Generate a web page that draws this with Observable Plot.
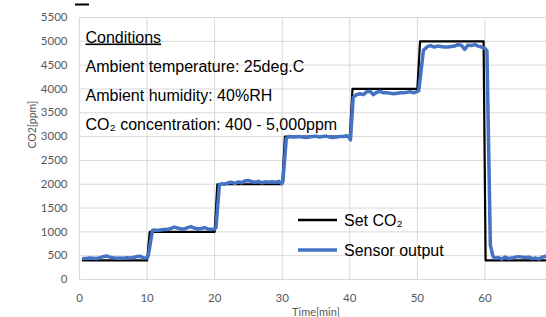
<!DOCTYPE html>
<html>
<head>
<meta charset="utf-8">
<script src="https://cdn.jsdelivr.net/npm/d3@7"></script>
<script src="https://cdn.jsdelivr.net/npm/@observablehq/plot@0.6"></script>
<style>
  html, body { margin: 0; padding: 0; background: #fff; overflow: hidden; }
  #chart { width: 546px; height: 317px; overflow: hidden; }
  #chart svg { max-width: none !important; }
</style>
</head>
<body>
<div id="chart"></div>
<script>
// Set CO2 step profile (time in min, ppm)
const setTime = [0.5, 10, 10.4, 20, 20.4, 30, 30.4, 40, 40.4, 50, 50.4, 59.8, 60.1, 71];
const setPpm  = [400, 400, 1000, 1000, 2000, 2000, 3000, 3000, 4000, 4000, 5000, 5000, 400, 400];

// Sensor output (time in min, ppm)
const sensorTime = [
  0.6, 1, 1.5, 2, 2.5, 3, 3.5, 4, 4.5, 5, 5.5, 6, 6.5, 7, 7.5, 8, 8.5, 9, 9.5, 10,
  10.2, 10.8, 11, 11.5, 12, 12.5, 13, 13.5, 14, 14.5, 15, 15.5, 16, 16.5, 17, 17.5, 18, 18.5, 19, 19.5, 20,
  20.2, 20.7, 21, 21.5, 22, 22.5, 23, 23.5, 24, 24.5, 25, 25.5, 26, 26.5, 27, 27.5, 28, 28.5, 29, 29.5, 29.9,
  30.1, 30.6, 31, 31.5, 32, 32.5, 33, 33.5, 34, 34.5, 35, 35.5, 36, 36.5, 37, 37.5, 38, 38.5, 39, 39.5, 39.8,
  40.1, 40.5, 41, 41.5, 42, 42.5, 43, 43.5, 44, 44.5, 45, 45.5, 46, 46.5, 47, 47.5, 48, 48.5, 49, 49.5, 50,
  50.2, 50.9, 51.5, 52, 52.5, 53, 53.5, 54, 54.5, 55, 55.5, 56, 56.5, 57, 57.5, 58, 58.5, 59, 59.5, 60,
  60.3, 60.8, 61.2, 61.5, 62, 62.5, 63, 63.5, 64, 64.5, 65, 65.5, 66, 66.5, 67, 67.5, 68, 68.5, 69, 69.5, 70
];
const sensorPpm = [
  440, 440, 450, 445, 440, 455, 480, 495, 470, 455, 445, 450, 445, 455, 450, 460, 485, 490, 450, 450,
  520, 1030, 1040, 1030, 1040, 1050, 1050, 1070, 1100, 1080, 1060, 1060, 1090, 1110, 1080, 1060, 1070, 1090, 1060, 1050, 1060,
  1090, 1990, 2010, 2000, 2030, 2040, 2020, 2050, 2030, 2070, 2080, 2050, 2040, 2060, 2030, 2050, 2040, 2050, 2040, 2060, 2010,
  2050, 2960, 3000, 2990, 2990, 3000, 2990, 2980, 2990, 3000, 3010, 2990, 3000, 3010, 2990, 2980, 2990, 3000, 3000, 3020, 3000,
  2930, 3820, 3880, 3900, 3880, 3940, 3950, 3880, 3930, 3950, 3920, 3920, 3910, 3900, 3910, 3920, 3920, 3930, 3940, 3920, 3950,
  3960, 4810, 4890, 4910, 4880, 4900, 4890, 4880, 4880, 4890, 4900, 4930, 4920, 4830, 4920, 4910, 4930, 4900, 4880, 4850,
  4800, 720, 480, 450, 460, 430, 470, 440, 450, 470, 480, 470, 460, 470, 440, 450, 430, 470, 490, 480, 470
];

const yTicks = d3.range(0, 5501, 500);
const xTicks = d3.range(0, 71, 10);

const setData = setTime.map((t, i) => ({t, v: setPpm[i]}));
const sensorData = sensorTime.map((t, i) => ({t, v: sensorPpm[i]}));

const conditionsTitle = "Conditions";
const conditions = [
  "Ambient temperature: 25deg.C",
  "Ambient humidity: 40%RH",
  "CO\u2082 concentration: 400 - 5,000ppm"
];
const legendLabels = ["Set CO\u2082", "Sensor output"];
const legendColors = ["#000000", "#4472C4"];

const grid = "#d9d9d9";
const tickColor = "#595959";
const textFont = "'Liberation Sans', Arial, sans-serif";

function legendMark(index, scales, values, dims) {
  const g = d3.create("svg:g");
  const x0 = dims.marginLeft + 219, y0 = dims.marginTop + 203;
  legendLabels.forEach((lab, i) => {
    const y = y0 + i * 30;
    g.append("line").attr("x1", x0).attr("x2", x0 + 39).attr("y1", y).attr("y2", y)
      .attr("stroke", legendColors[i]).attr("stroke-width", i === 0 ? 2.5 : 3.5);
    g.append("text").attr("x", x0 + 46).attr("y", y + 6)
      .attr("text-anchor", "start")
      .attr("font-family", textFont).attr("font-size", 16)
      .attr("fill", "#000").text(lab);
  });
  // stray underline mark at top-left
  g.append("rect").attr("x", 75).attr("y", 3.5).attr("width", 14).attr("height", 2).attr("fill", "#000");
  return g.node();
}

function condText(text, baseline, underline) {
  return Plot.text([text], {
    frameAnchor: "top-left", textAnchor: "start", lineAnchor: "bottom",
    dx: 6, dy: baseline - 17, fontSize: 16, fill: "#000", fontFamily: textFont,
    render: (index, scales, values, dims, ctx, next) => {
      const g = next(index, scales, values, dims, ctx);
      if (underline) d3.select(g).selectAll("text").style("text-decoration", "underline");
      return g;
    }
  });
}

const chart = Plot.plot({
  width: 553,
  height: 317,
  marginLeft: 79,
  marginRight: 1,
  marginTop: 17,
  marginBottom: 38,
  style: {fontFamily: "Lato, 'Open Sans', sans-serif", background: "#fff", maxWidth: "none"},
  x: {domain: [0, 70]},
  y: {domain: [0, 5500]},
  marks: [
    Plot.gridX(xTicks, {stroke: grid, strokeOpacity: 1}),
    Plot.gridY(yTicks, {stroke: grid, strokeOpacity: 1}),
    Plot.ruleX([0], {stroke: grid, strokeWidth: 1.2}),
    Plot.axisY(yTicks, {tickSize: 0, tickPadding: 12, fontSize: 11.5, fill: tickColor, label: null, tickFormat: d => String(d)}),
    Plot.axisX(xTicks, {tickSize: 0, tickPadding: 14, fontSize: 11.5, fill: tickColor, label: null, tickFormat: d => String(d)}),
    Plot.text(["CO2[ppm]"], {frameAnchor: "left", rotate: -90, dx: -47, fontSize: 10.5, fill: tickColor}),
    Plot.text(["Time[min]"], {frameAnchor: "bottom", lineAnchor: "bottom", dy: 36, fontSize: 11, fill: tickColor}),
    Plot.line(setData, {x: "t", y: "v", stroke: "#000", strokeWidth: 2.2, clip: true}),
    Plot.line(sensorData, {x: "t", y: "v", stroke: "#4472C4", strokeWidth: 3.5, strokeLinejoin: "round", clip: true}),
    condText(conditionsTitle, 42, true),
    condText(conditions[0], 71, false),
    condText(conditions[1], 100, false),
    condText(conditions[2], 129, false),
    legendMark
  ]
});
document.getElementById("chart").append(chart);
</script>
</body>
</html>
